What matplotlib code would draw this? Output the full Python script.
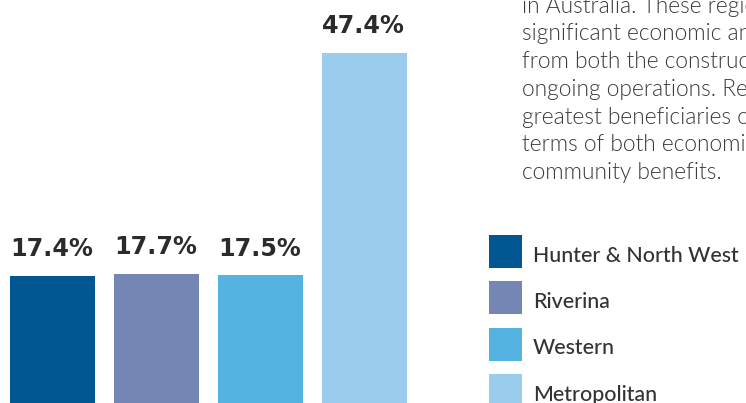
import matplotlib
matplotlib.use("Agg")
import matplotlib.pyplot as plt
from matplotlib.patches import Rectangle

# Share of benefits by region
regions = ["Hunter & North West", "Riverina", "Western", "Metropolitan"]
shares = [17.4, 17.7, 17.5, 47.4]
colors = ["#005792", "#7486b4", "#55b3e1", "#9acced"]

paragraph = [
    "in Australia. These regions",
    "significant economic and",
    "from both the construction",
    "ongoing operations. Regional",
    "greatest beneficiaries of",
    "terms of both economic",
    "community benefits.",
]

W, H = 746, 403
fig = plt.figure(figsize=(W / 100, H / 100), dpi=100)
fig.patch.set_facecolor("white")

TEXT_FONT = "Lato"
LABEL_FONT = "DejaVu Sans"

def px_box(x0, y0, x1, y1):
    """Figure-fraction rect from pixel box (top-left origin)."""
    return [x0 / W, 1 - y1 / H, (x1 - x0) / W, (y1 - y0) / H]

# Bar axes
ax = fig.add_axes(px_box(0, 0, 420, 405.4))
xs = range(len(shares))
ax.bar(xs, shares, width=85 / 104, color=colors, linewidth=0)
ax.set_xlim(-52.5 / 104, (420 - 52.5) / 104)
ax.set_ylim(0, 405.4 / 7.44)
ax.axis("off")

for x, v in zip(xs, shares):
    ax.annotate(f"{v}%", (x, v), xytext=(-0.7, 14), textcoords="offset points",
                ha="center", va="baseline", fontsize=17.2, fontweight="bold",
                color="#2b2b2b", family=LABEL_FONT)

# Description text
for i, line in enumerate(paragraph):
    base = 179 - (len(paragraph) - 1 - i) * 27.7
    fig.text(521.5 / W, 1 - base / H, line, fontsize=16.4, color="#3a3a3a",
             family=TEXT_FONT, fontweight=300, va="baseline", ha="left")

# Legend
lax = fig.add_axes(px_box(480, 220, 746, 403))
lax.set_xlim(480, 746)
lax.set_ylim(403, 220)
lax.axis("off")
for i, (name, c) in enumerate(zip(regions, colors)):
    top = 235 + i * 46.4
    lax.add_patch(Rectangle((489, top), 33, 33, facecolor=c, linewidth=0))
    lax.text(533, top + 26.7, name, fontsize=15.4, color="#333333",
             family=TEXT_FONT, fontweight="medium", va="baseline", ha="left")

fig.savefig("out.png", dpi=100, facecolor="white")
